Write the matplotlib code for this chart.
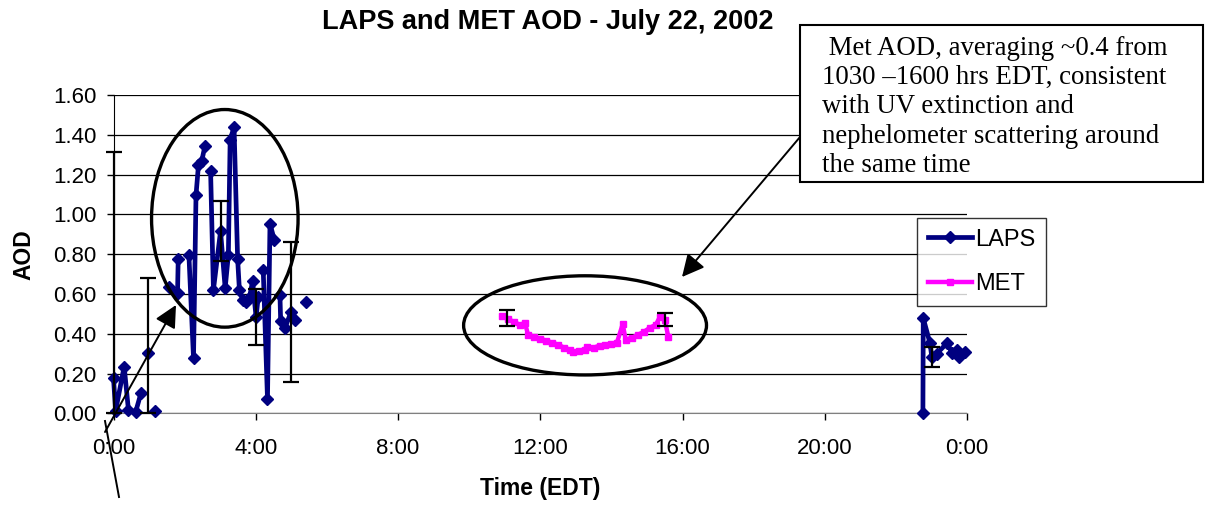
import numpy as np
import matplotlib
matplotlib.use("Agg")
import matplotlib.pyplot as plt
from matplotlib.patches import Ellipse, Rectangle, FancyArrowPatch
from matplotlib.lines import Line2D
from matplotlib.ticker import FuncFormatter

plt.rcParams['font.family'] = ['Liberation Sans', 'DejaVu Sans']

# LAPS sun photometer AOD (hours EDT), nan = gap in the record
laps_hours = [0.00, 0.06, 0.30, 0.42, 0.62, 0.77, np.nan,
              0.98, np.nan, 1.17, np.nan,
              1.56, 1.80, 1.82, np.nan,
              2.12, 2.25, 2.32, 2.39, 2.48, 2.57, np.nan,
              2.73, 2.81, 3.01, 3.14, 3.23, 3.28, 3.39, 3.49, 3.54, 3.63,
              3.73, 3.82, 3.91, 4.01, 4.07, np.nan,
              4.21, 4.33, 4.40, 4.52, np.nan,
              4.68, 4.70, 4.82, 4.99, 5.10, np.nan,
              5.41, np.nan,
              22.76, 22.77, 22.96, 23.01, 23.15, 23.45, 23.57, 23.71, 23.78, 23.94]
laps_aod = [0.176, 0.013, 0.235, 0.017, 0.005, 0.100, np.nan,
            0.302, np.nan, 0.013, np.nan,
            0.637, 0.604, 0.777, np.nan,
            0.797, 0.277, 1.096, 1.250, 1.267, 1.343, np.nan,
            1.217, 0.621, 0.915, 0.629, 0.797, 1.376, 1.438, 0.777, 0.621, 0.570,
            0.557, 0.579, 0.663, 0.483, 0.587, np.nan,
            0.722, 0.072, 0.953, 0.873, np.nan,
            0.596, 0.466, 0.428, 0.509, 0.470, np.nan,
            0.557, np.nan,
            0.000, 0.478, 0.352, 0.285, 0.300, 0.355, 0.302, 0.319, 0.282, 0.310]

laps_err_hours = [0.00, 0.98, 3.01, 4.01, 4.99, 23.01]
laps_err_aod = [0.176, 0.302, 0.915, 0.483, 0.509, 0.285]
laps_err = [1.135, 0.38, 0.15, 0.14, 0.35, 0.05]

# MET AOD
met_hours = [10.92, 11.08, 11.25, 11.42, 11.57, 11.66, 11.83, 12.00, 12.17,
             12.33, 12.50, 12.67, 12.83, 12.93, 13.08, 13.25, 13.31, 13.50,
             13.67, 13.83, 14.00, 14.15, 14.32, 14.40, 14.58, 14.75, 14.92,
             15.08, 15.25, 15.37, 15.50, 15.60]
met_aod = [0.490, 0.475, 0.460, 0.445, 0.453, 0.394, 0.385, 0.375, 0.365,
           0.355, 0.345, 0.330, 0.320, 0.310, 0.315, 0.320, 0.335, 0.330,
           0.340, 0.345, 0.350, 0.352, 0.448, 0.370, 0.380, 0.395, 0.410,
           0.430, 0.445, 0.486, 0.470, 0.386]

met_err_hours = [11.06, 15.51]
met_err_aod = [0.479, 0.473]
met_err = [0.038, 0.033]

W, H = 1211, 505


def px(x, y):
    return (x / W, 1 - y / H)


def draw_err(ax, x, y, err):
    # the axis starts at 0, so the lower whisker stops there
    lower = [min(e, v) for e, v in zip(err, y)]
    ax.errorbar(x, y, yerr=[lower, err], fmt='none', ecolor='black',
                elinewidth=1.6, capsize=6, capthick=1.6, zorder=5,
                clip_on=False)


fig = plt.figure(figsize=(W / 100, H / 100), dpi=100)
ax = fig.add_axes([113.5 / W, 1 - 413.3 / H, (967 - 113.5) / W, (413.3 - 95) / H])

ax.plot(laps_hours, laps_aod, color='#000080', lw=3.4, marker='D', ms=6.5,
        label='LAPS', clip_on=False, zorder=4)
ax.plot(met_hours, met_aod, color='#FF00FF', lw=3.2, marker='s', ms=5,
        label='MET', clip_on=False, zorder=4)

draw_err(ax, laps_err_hours, laps_err_aod, laps_err)
draw_err(ax, met_err_hours, met_err_aod, met_err)

ax.set_xlim(0, 24)
ax.set_ylim(0, 1.6)
ax.set_xticks(range(0, 25, 4))
ax.xaxis.set_major_formatter(FuncFormatter(lambda h, p: f"{int(h) % 24}:00"))
ax.set_yticks(np.arange(0, 1.61, 0.2))
ax.yaxis.set_major_formatter(FuncFormatter(lambda v, p: f"{v:.2f}"))
ax.grid(axis='y', color='black', lw=0.9)
ax.set_axisbelow(True)
for s in ['top', 'right']:
    ax.spines[s].set_visible(False)
ax.spines['left'].set_color('black')
ax.spines['bottom'].set_color('#808080')
ax.tick_params(labelsize=16, length=5, width=1, direction='out', pad=7)
ax.tick_params(axis='x', pad=13)

ax.set_xlabel('Time (EDT)', fontsize=16.5, fontweight='bold')
ax.xaxis.set_label_coords(0.4997, -0.20)
ax.xaxis.label.set_va('top')
ax.set_ylabel('AOD', fontsize=16.5, fontweight='bold')
ax.yaxis.set_label_coords(-0.091, 0.497)

fig.text(*px(548, 22), 'LAPS and MET AOD - July 22, 2002', ha='center',
         va='center', fontsize=19.5, fontweight='bold')

# circled regions
ax.add_patch(Ellipse((3.13, 0.98), 4.12, 1.094, fill=False, ec='black',
                     lw=2.4, clip_on=False, zorder=6))
ax.add_patch(Ellipse((13.26, 0.442), 6.83, 0.4985, fill=False, ec='black',
                     lw=2.4, clip_on=False, zorder=6))

# arrows and pointer lines
fig.add_artist(FancyArrowPatch(
    px(800, 137), px(682, 277), transform=fig.transFigure,
    arrowstyle='-|>,head_length=0.5,head_width=0.25', mutation_scale=27,
    color='black', lw=1.4, shrinkA=0, shrinkB=0, zorder=8))
fig.add_artist(FancyArrowPatch(
    px(105, 432), px(176, 305), transform=fig.transFigure,
    arrowstyle='-|>,head_length=0.5,head_width=0.25', mutation_scale=27,
    color='black', lw=1.4, shrinkA=0, shrinkB=0, zorder=8))
fig.add_artist(Line2D(
    [px(105, 421)[0], px(119, 497)[0]], [px(105, 421)[1], px(119, 497)[1]],
    transform=fig.transFigure, color='black', lw=1.4, zorder=8))

# comment box
fig.add_artist(Rectangle(px(800, 182), 403 / W, 157 / H, fc='white',
                         ec='black', lw=1.5, transform=fig.transFigure,
                         zorder=9))
box_lines = [' Met AOD, averaging ~0.4 from',
             '1030 \u20131600 hrs EDT, consistent',
             'with UV extinction and',
             'nephelometer scattering around',
             'the same time']
for i, line in enumerate(box_lines):
    fig.text(*px(822, 55 + i * 29.2), line, ha='left', va='baseline',
             fontsize=19.3, family='Liberation Serif', zorder=10)

leg = fig.legend(loc='upper left', bbox_to_anchor=px(917, 218), fontsize=17,
                 frameon=True, fancybox=False, edgecolor='black',
                 handlelength=1.9, borderpad=0.45, labelspacing=0.95,
                 handletextpad=0.1, borderaxespad=0)
leg.get_frame().set_linewidth(1.0)

fig.savefig('out.png', dpi=100, facecolor='white')
